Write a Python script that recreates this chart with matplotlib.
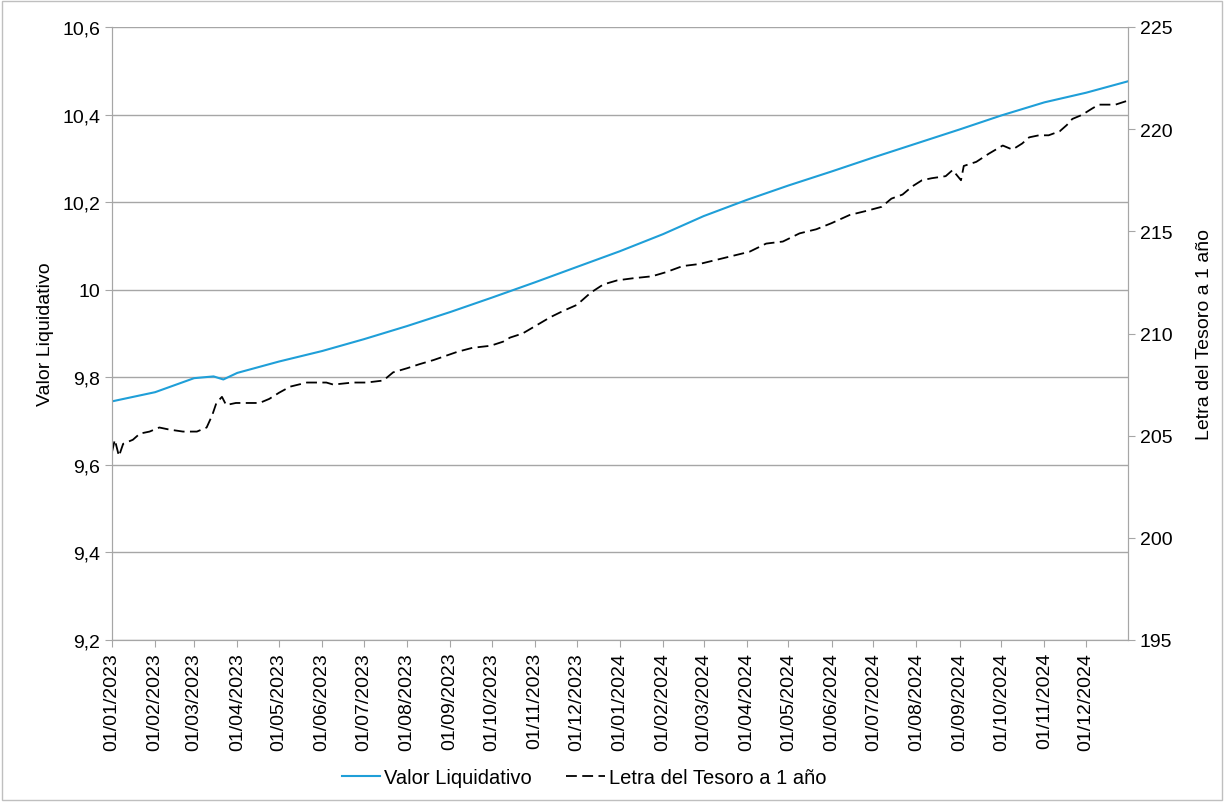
import matplotlib
matplotlib.use('Agg')
import matplotlib.pyplot as plt
import matplotlib.dates as mdates
from matplotlib.ticker import FuncFormatter
import pandas as pd

plt.rcParams['font.family'] = ['Liberation Sans', 'DejaVu Sans']

# Valor Liquidativo (eje izquierdo)
vl_fechas = ['2023-01-01', '2023-02-01', '2023-03-01', '2023-03-15', '2023-03-22',
             '2023-04-01', '2023-05-01', '2023-06-01', '2023-07-01', '2023-08-01',
             '2023-09-01', '2023-10-01', '2023-11-01', '2023-12-01', '2024-01-01',
             '2024-02-01', '2024-03-01', '2024-04-01', '2024-05-01', '2024-06-01',
             '2024-07-01', '2024-08-01', '2024-09-01', '2024-10-01', '2024-11-01',
             '2024-12-01', '2024-12-31']
vl_valores = [9.745, 9.766, 9.798, 9.802, 9.795,
              9.810, 9.836, 9.860, 9.887, 9.917,
              9.949, 9.982, 10.017, 10.052, 10.088,
              10.127, 10.168, 10.205, 10.238, 10.270,
              10.302, 10.334, 10.366, 10.398, 10.428,
              10.450, 10.476]

# Letra del Tesoro a 1 año (eje derecho)
lt_fechas = ['2023-01-01', '2023-01-03', '2023-01-06', '2023-01-09', '2023-01-16',
             '2023-01-21', '2023-01-28', '2023-02-04', '2023-02-11', '2023-02-21',
             '2023-03-03', '2023-03-10', '2023-03-14', '2023-03-17', '2023-03-21',
             '2023-03-24', '2023-03-31', '2023-04-10', '2023-04-17', '2023-04-24',
             '2023-05-01', '2023-05-09', '2023-05-21', '2023-06-04', '2023-06-09',
             '2023-06-23', '2023-07-03', '2023-07-15', '2023-07-22', '2023-08-01',
             '2023-08-10', '2023-08-20', '2023-09-06', '2023-09-17', '2023-09-30',
             '2023-10-09', '2023-10-14', '2023-10-23', '2023-11-02', '2023-11-12',
             '2023-11-21', '2023-12-01', '2023-12-11', '2023-12-20', '2023-12-30',
             '2024-01-10', '2024-01-24', '2024-02-03', '2024-02-15', '2024-02-27',
             '2024-03-10', '2024-03-22', '2024-04-03', '2024-04-15', '2024-04-27',
             '2024-05-09', '2024-05-21', '2024-06-01', '2024-06-14', '2024-06-26',
             '2024-07-07', '2024-07-14', '2024-07-22', '2024-07-29', '2024-08-05',
             '2024-08-12', '2024-08-22', '2024-08-27', '2024-09-02', '2024-09-04',
             '2024-09-13', '2024-09-22', '2024-10-02', '2024-10-09', '2024-10-16',
             '2024-10-21', '2024-10-28', '2024-11-04', '2024-11-12', '2024-11-17',
             '2024-11-21', '2024-11-28', '2024-12-05', '2024-12-10', '2024-12-17',
             '2024-12-22', '2024-12-31']
lt_valores = [204.2, 204.8, 204.0, 204.6, 204.8,
              205.1, 205.2, 205.4, 205.3, 205.2,
              205.2, 205.4, 206.0, 206.6, 206.9,
              206.5, 206.6, 206.6, 206.6, 206.8,
              207.1, 207.4, 207.6, 207.6, 207.5,
              207.6, 207.6, 207.7, 208.1, 208.3,
              208.5, 208.7, 209.1, 209.3, 209.4,
              209.6, 209.8, 210.0, 210.4, 210.8,
              211.1, 211.4, 212.0, 212.4, 212.6,
              212.7, 212.8, 213.0, 213.3, 213.4,
              213.6, 213.8, 214.0, 214.4, 214.5,
              214.9, 215.1, 215.4, 215.8, 216.0,
              216.2, 216.6, 216.8, 217.2, 217.5,
              217.6, 217.7, 218.0, 217.5, 218.2,
              218.4, 218.8, 219.2, 219.0, 219.3,
              219.6, 219.7, 219.7, 219.9, 220.2,
              220.5, 220.7, 221.0, 221.2, 221.2,
              221.2, 221.4]

azul = '#1F9FD8'
gris = '#A6A6A6'
fs = 14

fig = plt.figure(figsize=(12.24, 8.03), dpi=100)
ax = fig.add_axes([112 / 1224, 1 - 641 / 803, 1016 / 1224, 613 / 803])
ax2 = ax.twinx()

l1, = ax.plot(pd.to_datetime(vl_fechas), vl_valores, color=azul, lw=1.5,
              label='Valor Liquidativo')
l2, = ax2.plot(pd.to_datetime(lt_fechas), lt_valores, color='black', lw=1.3,
               linestyle=(0, (6, 3)), label='Letra del Tesoro a 1 año')

ax.set_xlim(pd.Timestamp('2023-01-01'), pd.Timestamp('2024-12-31'))
ax.set_ylim(9.2, 10.6)
ax.set_yticks([9.2, 9.4, 9.6, 9.8, 10.0, 10.2, 10.4, 10.6])
ax.yaxis.set_major_formatter(FuncFormatter(lambda v, p: ('%g' % round(v, 1)).replace('.', ',')))
ax2.set_ylim(195, 225)
ax2.set_yticks([195, 200, 205, 210, 215, 220, 225])

ax.set_xticks(pd.date_range('2023-01-01', '2024-12-01', freq='MS'))
ax.xaxis.set_major_formatter(mdates.DateFormatter('%d/%m/%Y'))
plt.setp(ax.get_xticklabels(), rotation=90)

ax.grid(axis='y', color=gris, lw=1)
ax.set_axisbelow(True)
for a in (ax, ax2):
    for s in a.spines.values():
        s.set_color(gris)
    a.spines['top'].set_visible(False)
    a.tick_params(colors=gris, labelcolor='black', labelsize=fs, length=5)

ax.set_ylabel('Valor Liquidativo', fontsize=fs, labelpad=6)
ax2.set_ylabel('Letra del Tesoro a 1 año', fontsize=fs, rotation=90, labelpad=17)

fig.legend(handles=[l1, l2], loc='center', bbox_to_anchor=(584 / 1224, 1 - 779 / 803),
           ncol=2, frameon=False, fontsize=14.5, handlelength=1.9, columnspacing=1.7,
           handletextpad=0.2)

fig.patches.append(plt.Rectangle((0.002, 0.002), 0.996, 0.996, transform=fig.transFigure,
                                 fill=False, edgecolor='#BFBFBF', lw=1))

fig.savefig('out.png', dpi=100)
